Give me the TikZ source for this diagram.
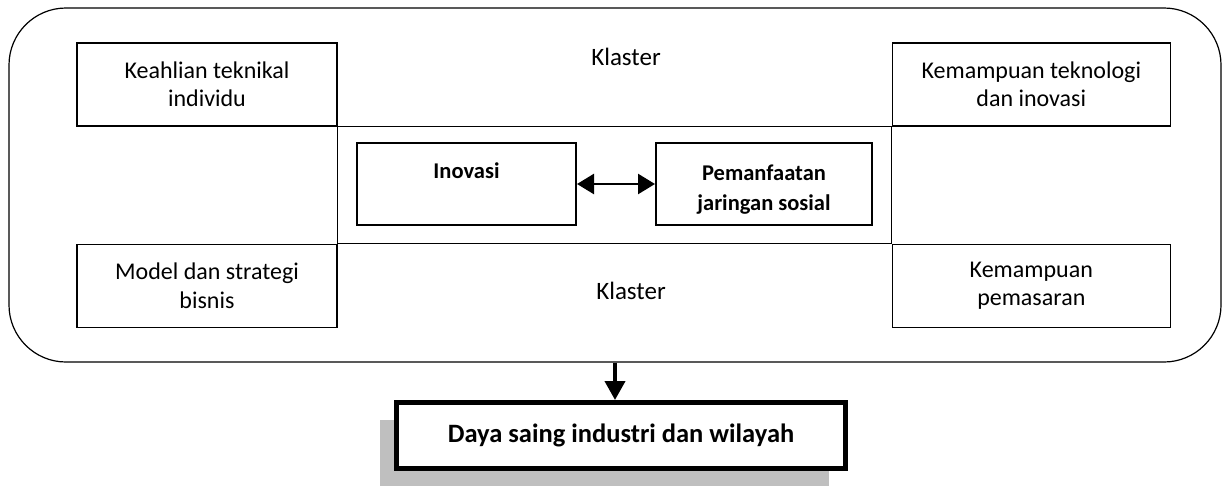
\documentclass[tikz,border=0pt]{standalone}
\usepackage{fontspec}
\setmainfont{Carlito}
\usetikzlibrary{arrows.meta,positioning,shadows}
\newcommand{\toppad}{\rule{0pt}{27pt}}
\tikzset{
  cluster/.style={draw=black,line width=1.2pt,rounded corners=57pt,minimum width=1212pt,minimum height=354pt},
  cornerbox/.style={draw=black,line width=1.3pt,minimum height=83pt,align=center,font=\fontsize{24}{28.5}\selectfont},
  corebox/.style={draw=black,line width=2pt,minimum width=219pt,minimum height=82pt,align=center,font=\bfseries\fontsize{22.5}{29.5}\selectfont},
  klaster/.style={font=\fontsize{25}{30}\selectfont},
  resultbox/.style={draw=black,line width=5pt,fill=white,minimum width=449pt,minimum height=66pt,font=\bfseries\fontsize{26.5}{30}\selectfont,
    drop shadow={shadow xshift=-17pt,shadow yshift=-17pt,fill=black!25,opacity=1}},
  thinline/.style={draw=black,line width=1.2pt},
  dblarr/.style={{Triangle[length=17pt,width=20pt]}-{Triangle[length=17pt,width=20pt]},line width=2.5pt},
  downarr/.style={-{Triangle[length=19pt,width=20pt]},line width=4pt}
}
\begin{document}
\begin{tikzpicture}[x=1pt,y=-1pt,node distance=78pt]
  \useasboundingbox (0,0) rectangle (1223,485);
  \node[cluster] (cluster) at (615,185) {};
  % four fields round the cluster
  \node[cornerbox,minimum width=260pt] (tl) at (207,84.5) {Keahlian teknikal\\individu};
  \node[cornerbox,minimum width=278pt,right=554pt of tl] (tr) {Kemampuan teknologi\\dan inovasi};
  \node[cornerbox,minimum width=260pt,below=117pt of tl] (bl) {Model dan strategi\\bisnis};
  \node[cornerbox,minimum width=278pt,below=117pt of tr] (br) {Kemampuan\\pemasaran};
  \draw[thinline] (tl.south east) rectangle (br.north west);
  \node[klaster] (lbltop) at (626,57) {Klaster};
  \node[klaster] (lblbot) at (631,290.5) {Klaster};
  % core of the cluster
  \node[corebox] (ino) at (466.5,184) {\toppad Inovasi\\\strut};
  \node[corebox,minimum width=216pt,right=of ino] (pem) {\toppad Pemanfaatan\\jaringan sosial};
  \draw[dblarr] (ino) -- (pem);
  % outcome
  \node[resultbox] (result) at (621,435.5) {Daya saing industri dan wilayah};
  \draw[downarr] (cluster.south) -- (cluster.south |- result.north);
\end{tikzpicture}
\end{document}
